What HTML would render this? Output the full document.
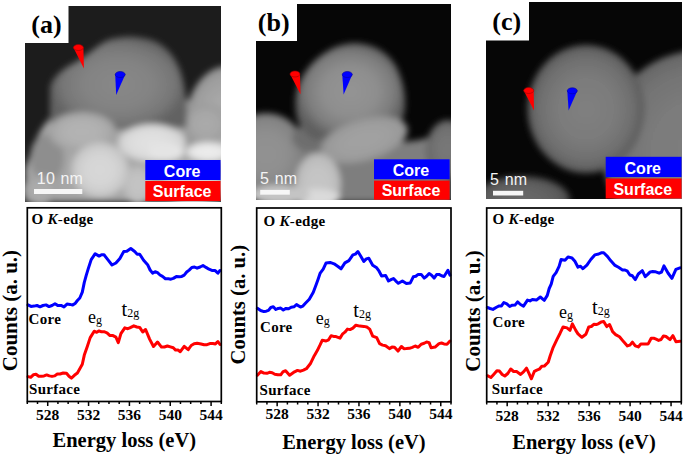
<!DOCTYPE html>
<html><head><meta charset="utf-8"><style>
html,body{margin:0;padding:0;background:#fff;}
body{width:685px;height:455px;overflow:hidden;}
svg{display:block;}
.tl{font-family:"Liberation Serif",serif;font-weight:bold;font-size:15.5px;}
.at{font-family:"Liberation Serif",serif;font-weight:bold;font-size:20.5px;}
.yt{font-family:"Liberation Serif",serif;font-weight:bold;font-size:21px;}
.lb{font-family:"Liberation Serif",serif;font-weight:bold;font-size:15px;letter-spacing:0.3px;}
.pk{font-family:"Liberation Serif",serif;font-size:18px;}
.pl{font-family:"Liberation Serif",serif;font-weight:bold;font-size:26px;}
.sb{font-family:"Liberation Sans",sans-serif;font-size:16px;fill:#f4f4f4;}
.bx{font-family:"Liberation Sans",sans-serif;font-weight:bold;font-size:16px;fill:#fff;}
</style></head><body>
<svg width="685" height="455" viewBox="0 0 685 455">
<defs><radialGradient id="ga_r" cx="50%" cy="50%" r="50%"><stop offset="0" stop-color="#aaaaaa"/><stop offset="0.5" stop-color="#a7a7a7"/><stop offset="0.8" stop-color="#9f9f9f"/><stop offset="1" stop-color="#909090"/></radialGradient><radialGradient id="ga_r2" cx="50%" cy="50%" r="50%"><stop offset="0" stop-color="#aaaaaa"/><stop offset="0.5" stop-color="#a8a8a8"/><stop offset="0.8" stop-color="#a2a2a2"/><stop offset="1" stop-color="#999999"/></radialGradient><radialGradient id="ga_main" cx="50%" cy="50%" r="50%"><stop offset="0" stop-color="#888888"/><stop offset="0.5" stop-color="#838383"/><stop offset="0.8" stop-color="#777777"/><stop offset="1" stop-color="#626262"/></radialGradient><radialGradient id="ga_b1" cx="50%" cy="50%" r="50%"><stop offset="0" stop-color="#b4b4b4"/><stop offset="0.5" stop-color="#b1b1b1"/><stop offset="0.8" stop-color="#aaaaaa"/><stop offset="1" stop-color="#9e9e9e"/></radialGradient><radialGradient id="ga_ll" cx="50%" cy="50%" r="50%"><stop offset="0" stop-color="#acacac"/><stop offset="0.5" stop-color="#aaaaaa"/><stop offset="0.8" stop-color="#a4a4a4"/><stop offset="1" stop-color="#9b9b9b"/></radialGradient><radialGradient id="ga_b3" cx="50%" cy="50%" r="50%"><stop offset="0" stop-color="#e2e2e2"/><stop offset="0.5" stop-color="#dfdfdf"/><stop offset="0.8" stop-color="#d8d8d8"/><stop offset="1" stop-color="#cbcbcb"/></radialGradient><radialGradient id="ga_b4" cx="50%" cy="50%" r="50%"><stop offset="0" stop-color="#ececec"/><stop offset="0.5" stop-color="#eaeaea"/><stop offset="0.8" stop-color="#e4e4e4"/><stop offset="1" stop-color="#d9d9d9"/></radialGradient><radialGradient id="ga_b5" cx="50%" cy="50%" r="50%"><stop offset="0" stop-color="#c4c4c4"/><stop offset="0.5" stop-color="#c2c2c2"/><stop offset="0.8" stop-color="#bbbbbb"/><stop offset="1" stop-color="#b0b0b0"/></radialGradient><radialGradient id="ga_b2" cx="50%" cy="50%" r="50%"><stop offset="0" stop-color="#d8d8d8"/><stop offset="0.5" stop-color="#d5d5d5"/><stop offset="0.8" stop-color="#cccccc"/><stop offset="1" stop-color="#bebebe"/></radialGradient><radialGradient id="ga_b6" cx="50%" cy="50%" r="50%"><stop offset="0" stop-color="#d6d6d6"/><stop offset="0.5" stop-color="#d4d4d4"/><stop offset="0.8" stop-color="#cecece"/><stop offset="1" stop-color="#c5c5c5"/></radialGradient><radialGradient id="gb_rr" cx="50%" cy="50%" r="50%"><stop offset="0" stop-color="#787878"/><stop offset="0.5" stop-color="#757575"/><stop offset="0.8" stop-color="#6d6d6d"/><stop offset="1" stop-color="#606060"/></radialGradient><radialGradient id="gb_left" cx="50%" cy="50%" r="50%"><stop offset="0" stop-color="#929292"/><stop offset="0.5" stop-color="#8f8f8f"/><stop offset="0.8" stop-color="#868686"/><stop offset="1" stop-color="#787878"/></radialGradient><radialGradient id="gb_main" cx="50%" cy="50%" r="50%"><stop offset="0" stop-color="#949494"/><stop offset="0.5" stop-color="#8e8e8e"/><stop offset="0.8" stop-color="#7c7c7c"/><stop offset="1" stop-color="#5f5f5f"/></radialGradient><radialGradient id="gb_low" cx="50%" cy="50%" r="50%"><stop offset="0" stop-color="#a2a2a2"/><stop offset="0.5" stop-color="#a0a0a0"/><stop offset="0.8" stop-color="#9b9b9b"/><stop offset="1" stop-color="#929292"/></radialGradient><radialGradient id="gb_bot" cx="50%" cy="50%" r="50%"><stop offset="0" stop-color="#c6c6c6"/><stop offset="0.5" stop-color="#c4c4c4"/><stop offset="0.8" stop-color="#bdbdbd"/><stop offset="1" stop-color="#b2b2b2"/></radialGradient><radialGradient id="gc_r" cx="50%" cy="50%" r="50%"><stop offset="0" stop-color="#7e7e7e"/><stop offset="0.5" stop-color="#7b7b7b"/><stop offset="0.8" stop-color="#737373"/><stop offset="1" stop-color="#656565"/></radialGradient><radialGradient id="gc_main" cx="50%" cy="50%" r="50%"><stop offset="0" stop-color="#808080"/><stop offset="0.5" stop-color="#7b7b7b"/><stop offset="0.8" stop-color="#6f6f6f"/><stop offset="1" stop-color="#5a5a5a"/></radialGradient><radialGradient id="gc_bot" cx="50%" cy="50%" r="50%"><stop offset="0" stop-color="#686868"/><stop offset="0.5" stop-color="#646464"/><stop offset="0.8" stop-color="#5a5a5a"/><stop offset="1" stop-color="#494949"/></radialGradient><filter id="b3" x="-50%" y="-50%" width="200%" height="200%"><feGaussianBlur stdDeviation="3"/></filter>
<filter id="b2" x="-50%" y="-50%" width="200%" height="200%"><feGaussianBlur stdDeviation="2"/></filter>
<filter id="b4" x="-50%" y="-50%" width="200%" height="200%"><feGaussianBlur stdDeviation="4"/></filter>
<filter id="b7" x="-50%" y="-50%" width="200%" height="200%"><feGaussianBlur stdDeviation="7"/></filter>
<filter id="b12" x="-50%" y="-50%" width="200%" height="200%"><feGaussianBlur stdDeviation="12"/></filter>
<clipPath id="ca"><rect x="25" y="6" width="196" height="196"/></clipPath>
<clipPath id="cb"><rect x="256" y="4" width="195" height="196"/></clipPath>
<clipPath id="cc"><rect x="486" y="2" width="196" height="197"/></clipPath>
</defs>
<g clip-path="url(#ca)"><rect x="25" y="6" width="196" height="196" fill="#1c1c1c"/><g filter="url(#b3)"><path d="M52,116 L100,112 L221,96 L221,202 L25,202 L25,168 C28,160 32,150 36,140 C40,130 46,122 52,116 Z" fill="#a6a6a6"/><ellipse cx="47" cy="158" rx="17" ry="24" fill="#8e8e8e"/><ellipse cx="228" cy="126" rx="43" ry="60" fill="url(#ga_r)"/><ellipse cx="206" cy="124" rx="22" ry="20" fill="url(#ga_r2)"/><path d="M50,118 L50,88 C52,78 60,70 78,61 C88,55 96,46 106,41 C118,36 142,34 160,44 C172,52 180,64 184,85 C187,100 188,112 186,128 L52,132 Z" fill="url(#ga_main)"/><ellipse cx="82" cy="132" rx="34" ry="20" fill="url(#ga_b1)"/><ellipse cx="40" cy="190" rx="18" ry="16" fill="url(#ga_ll)"/><ellipse cx="152" cy="143" rx="34" ry="19" fill="url(#ga_b3)"/><ellipse cx="166" cy="152" rx="18" ry="9" fill="#e4e4e4"/><ellipse cx="208" cy="152" rx="22" ry="10" fill="url(#ga_b4)"/><ellipse cx="138" cy="185" rx="16" ry="20" fill="url(#ga_b5)"/><ellipse cx="100" cy="170" rx="29" ry="28" fill="url(#ga_b2)"/><ellipse cx="192" cy="188" rx="32" ry="18" fill="url(#ga_b6)"/></g><rect x="25" y="6" width="43.5" height="37" fill="#fff"/></g><g clip-path="url(#cb)"><rect x="256" y="4" width="195" height="196" fill="#060606"/><g filter="url(#b3)"><path d="M300,140 L340,150 L420,140 L451,130 L451,202 L290,202 Z" fill="#7e7e7e"/><ellipse cx="448" cy="150" rx="22" ry="30" fill="url(#gb_rr)"/><ellipse cx="266" cy="154" rx="40" ry="41" fill="url(#gb_left)"/><ellipse cx="312" cy="138" rx="20" ry="14" fill="#6e6e6e"/><path d="M296,112 C294,97 297,83 306,71 C316,57 333,44 354,43 C372,43 388,52 396,66 C403,80 406,95 405,108 C404,120 398,128 392,132 L314,140 C303,133 297,123 296,112 Z" fill="url(#gb_main)"/><ellipse cx="364" cy="140" rx="45" ry="21" fill="url(#gb_low)" transform="rotate(-16 364 140)"/><ellipse cx="318" cy="184" rx="23" ry="31" fill="url(#gb_bot)"/><ellipse cx="316" cy="197" rx="24" ry="8" fill="#dadada"/><ellipse cx="280" cy="195" rx="30" ry="10" fill="#c4c4c4"/></g><rect x="256" y="4" width="41" height="37" fill="#fff"/></g><g clip-path="url(#cc)"><rect x="486" y="2" width="196" height="197" fill="#060606"/><g filter="url(#b3)"><ellipse cx="702" cy="150" rx="100" ry="100" fill="url(#gc_r)"/><ellipse cx="586" cy="109" rx="58.5" ry="64" fill="url(#gc_main)"/><ellipse cx="522" cy="200" rx="48" ry="24" fill="url(#gc_bot)"/></g><rect x="486" y="2" width="43" height="38.5" fill="#fff"/></g><path d="M73.4,47.5 L83.9,68.5 L83.4,47.5 Z" fill="#ff0000"/><ellipse cx="78.4" cy="47.5" rx="5.0" ry="3.0" fill="#ff0000" stroke="#a00000" stroke-width="0.6"/><path d="M115.2,74.5 L116.2,95.0 L125.2,74.5 Z" fill="#0000ff"/><ellipse cx="120.2" cy="74.5" rx="5.0" ry="3.0" fill="#0000ff" stroke="#0000a0" stroke-width="0.6"/><path d="M290.0,74.0 L300.5,94.2 L300.0,74.0 Z" fill="#ff0000"/><ellipse cx="295" cy="74" rx="5.0" ry="3.0" fill="#ff0000" stroke="#a00000" stroke-width="0.6"/><path d="M342.3,74.5 L343.6,94.5 L352.3,74.5 Z" fill="#0000ff"/><ellipse cx="347.3" cy="74.5" rx="5.0" ry="3.0" fill="#0000ff" stroke="#0000a0" stroke-width="0.6"/><path d="M523.7,90.5 L534.0,110.5 L533.7,90.5 Z" fill="#ff0000"/><ellipse cx="528.7" cy="90.5" rx="5.0" ry="3.0" fill="#ff0000" stroke="#a00000" stroke-width="0.6"/><path d="M567.3,90.8 L568.6,110.5 L577.3,90.8 Z" fill="#0000ff"/><ellipse cx="572.3" cy="90.8" rx="5.0" ry="3.0" fill="#0000ff" stroke="#0000a0" stroke-width="0.6"/><rect x="145.3" y="160" width="75.19999999999999" height="20" fill="#0000ff"/><rect x="145.3" y="181" width="75.19999999999999" height="20" fill="#ff0000"/><text x="182.1" y="176.5" text-anchor="middle" class="bx">Core</text><text x="182.1" y="197" text-anchor="middle" class="bx">Surface</text><rect x="374" y="159.3" width="75.60000000000002" height="19.899999999999977" fill="#0000ff"/><rect x="374" y="180.6" width="75.60000000000002" height="19.099999999999994" fill="#ff0000"/><text x="411.0" y="175.7" text-anchor="middle" class="bx">Core</text><text x="411.0" y="195.7" text-anchor="middle" class="bx">Surface</text><rect x="605.7" y="156.8" width="75.79999999999995" height="20.19999999999999" fill="#0000ff"/><rect x="605.7" y="178.5" width="75.79999999999995" height="20.0" fill="#ff0000"/><text x="642.8000000000001" y="173.5" text-anchor="middle" class="bx">Core</text><text x="642.8000000000001" y="194.5" text-anchor="middle" class="bx">Surface</text><rect x="34" y="189" width="48.3" height="5" fill="#f6f6f6"/><text x="36.8" y="184.3" class="sb" letter-spacing="0.2" word-spacing="0.8">10 nm</text><rect x="260.2" y="189.9" width="29.6" height="4.8" fill="#f6f6f6"/><text x="260" y="184" class="sb" word-spacing="1.5">5 nm</text><rect x="493" y="190.8" width="30.2" height="4.7" fill="#f6f6f6"/><text x="490" y="185.2" class="sb" word-spacing="1.5">5 nm</text><text x="31.3" y="33.1" class="pl">(a)</text><text x="257.8" y="31.1" class="pl">(b)</text><text x="492.3" y="30.4" class="pl">(c)</text>
<polyline points="28.0,304.9 31.0,306.4 34.0,306.1 37.0,305.5 40.0,306.8 43.0,305.5 46.0,304.9 49.0,306.6 52.0,305.5 55.0,303.8 58.0,305.6 61.0,305.4 64.0,306.9 67.0,304.1 70.0,304.4 72.7,305.1 75.4,303.2 77.4,300.5 79.8,298.0 82.3,292.1 84.3,282.4 86.3,275.1 88.2,268.9 91.2,259.6 95.2,253.7 99.1,256.1 101.5,254.7 104.0,254.8 108.0,259.9 112.0,265.0 115.9,263.0 119.9,258.4 123.8,251.4 126.8,251.3 130.8,248.5 134.7,251.5 137.2,254.2 139.7,254.2 143.6,260.3 147.6,264.7 150.1,270.0 152.6,273.1 155.1,271.7 157.5,272.7 160.0,275.0 162.5,276.4 165.4,278.7 168.4,278.8 170.9,279.2 173.3,278.4 176.3,276.6 179.3,276.7 181.8,276.4 184.2,275.1 186.7,272.0 189.2,270.1 191.8,267.5 194.5,267.0 197.1,268.2 200.1,267.0 203.0,265.5 206.0,267.4 209.0,269.2 211.9,270.4 214.9,270.4 217.9,273.2 220.0,270.5" fill="none" stroke="#0000ff" stroke-width="3.0" stroke-linejoin="round" stroke-linecap="round"/>
<polyline points="28.0,376.6 30.7,377.3 33.3,374.8 36.0,374.3 38.7,376.3 41.3,376.3 44.0,375.9 46.7,374.9 49.3,375.9 52.0,376.4 54.7,375.9 57.3,374.0 60.0,374.0 63.2,373.0 66.5,373.2 69.0,376.2 71.4,378.1 74.4,375.3 77.4,373.0 79.8,368.8 82.3,364.3 84.3,355.1 87.3,346.5 90.2,337.6 94.2,331.2 96.7,332.3 99.1,330.9 101.5,331.8 104.0,331.7 107.0,332.8 110.0,335.6 113.0,335.6 115.9,337.1 118.3,342.7 120.9,333.7 124.8,327.8 127.3,328.7 129.8,327.9 133.8,325.8 136.8,327.0 139.7,327.4 142.7,332.0 145.6,329.5 149.6,339.1 153.5,346.5 157.5,342.0 161.5,347.1 164.4,347.0 167.4,346.0 170.4,346.9 173.3,347.8 175.6,350.1 178.0,350.0 180.3,351.7 184.2,346.3 188.2,349.7 191.2,345.5 194.1,343.8 197.1,343.3 201.1,344.0 204.1,344.7 207.0,344.7 209.9,343.6 212.9,343.5 215.4,343.9 217.9,341.5 220.0,344.5" fill="none" stroke="#ff0000" stroke-width="3.0" stroke-linejoin="round" stroke-linecap="round"/>
<rect x="27.3" y="207.8" width="194.0" height="193.7" fill="none" stroke="#000" stroke-width="1.7"/>
<path d="M27.30 401.5v2.6 M37.51 401.5v2.6 M47.72 401.5v4.5 M57.93 401.5v2.6 M68.14 401.5v2.6 M78.35 401.5v2.6 M88.56 401.5v4.5 M98.77 401.5v2.6 M108.98 401.5v2.6 M119.19 401.5v2.6 M129.41 401.5v4.5 M139.62 401.5v2.6 M149.83 401.5v2.6 M160.04 401.5v2.6 M170.25 401.5v4.5 M180.46 401.5v2.6 M190.67 401.5v2.6 M200.88 401.5v2.6 M211.09 401.5v4.5 M221.30 401.5v2.6" stroke="#000" stroke-width="1.5" fill="none"/>
<text x="47.72" y="419.5" text-anchor="middle" class="tl">528</text>
<text x="88.56" y="419.5" text-anchor="middle" class="tl">532</text>
<text x="129.41" y="419.5" text-anchor="middle" class="tl">536</text>
<text x="170.25" y="419.5" text-anchor="middle" class="tl">540</text>
<text x="211.09" y="419.5" text-anchor="middle" class="tl">544</text>
<text x="124.3" y="447.4" text-anchor="middle" class="at">Energy loss (eV)</text>
<text x="31.5" y="223.5" class="lb">O <tspan font-style="italic">K</tspan><tspan font-weight="normal">-</tspan>edge</text>
<text x="28.6" y="323.7" class="lb">Core</text>
<text x="29.0" y="394.1" class="lb">Surface</text>
<text x="88" y="322.5" class="pk">e<tspan font-size="12" dy="1">g</tspan></text>
<text x="121.5" y="315.5" class="pk"><tspan font-size="20.5">t</tspan><tspan font-size="12" dy="1">2g</tspan></text>
<polyline points="257.4,308.3 260.6,310.5 263.9,311.6 266.2,311.2 268.5,310.4 270.8,307.5 273.3,306.8 275.8,309.5 278.2,308.4 280.7,308.1 283.3,310.0 286.0,308.4 288.6,308.8 291.2,307.2 293.9,306.8 296.5,304.6 300.5,307.0 302.9,306.1 305.4,303.3 309.3,299.3 313.3,292.3 316.3,284.3 318.2,279.0 320.2,273.1 323.2,269.1 326.1,262.9 330.1,262.4 334.1,263.8 338.0,266.5 341.0,268.8 344.9,262.9 348.9,260.6 352.9,254.9 355.4,254.1 357.9,251.5 360.8,256.2 363.8,261.4 366.3,258.9 368.8,258.2 372.7,265.2 376.7,267.8 379.1,271.2 381.6,276.0 385.6,275.4 388.5,281.0 391.0,279.7 393.5,278.5 395.9,281.1 398.4,283.3 402.4,281.0 406.4,283.6 410.3,282.9 413.3,276.8 415.8,276.3 418.2,274.4 421.2,274.4 424.2,278.1 426.6,276.2 429.1,273.5 431.6,275.2 434.1,278.1 436.6,274.6 439.0,274.4 441.5,275.8 444.0,276.5 447.9,270.3 450.0,275.2" fill="none" stroke="#0000ff" stroke-width="3.0" stroke-linejoin="round" stroke-linecap="round"/>
<polyline points="257.4,375.2 260.9,371.5 263.9,373.1 266.9,373.3 269.5,372.3 272.2,372.7 274.8,374.2 277.8,374.7 280.7,374.8 283.1,371.6 285.6,370.8 289.6,375.3 292.1,373.5 294.5,371.8 297.5,370.4 300.5,371.2 303.4,370.1 306.4,368.7 310.3,363.8 314.3,355.7 317.3,350.6 320.2,344.7 322.2,340.3 326.1,341.0 328.6,339.8 331.1,335.7 333.6,336.4 336.0,336.6 340.0,338.1 342.4,334.2 344.9,332.2 347.4,329.1 350.0,329.6 352.9,328.1 355.9,325.2 359.8,326.1 363.8,326.4 366.8,327.0 369.7,329.1 372.7,336.1 376.7,337.6 379.6,343.7 382.6,345.1 385.6,345.7 389.5,348.6 392.0,347.1 394.5,347.2 398.0,351.1 401.4,346.5 403.9,348.7 406.4,348.6 409.4,348.3 412.3,347.3 415.2,346.0 418.2,347.3 421.2,344.2 424.2,343.3 426.6,342.0 429.1,342.6 431.1,347.7 435.1,347.1 439.0,343.6 441.5,343.0 444.0,343.9 447.0,344.2 450.0,341.0" fill="none" stroke="#ff0000" stroke-width="3.0" stroke-linejoin="round" stroke-linecap="round"/>
<rect x="256.7" y="208.0" width="194.3" height="193.8" fill="none" stroke="#000" stroke-width="1.7"/>
<path d="M256.70 401.8v2.6 M266.93 401.8v2.6 M277.15 401.8v4.5 M287.38 401.8v2.6 M297.61 401.8v2.6 M307.83 401.8v2.6 M318.06 401.8v4.5 M328.28 401.8v2.6 M338.51 401.8v2.6 M348.74 401.8v2.6 M358.96 401.8v4.5 M369.19 401.8v2.6 M379.42 401.8v2.6 M389.64 401.8v2.6 M399.87 401.8v4.5 M410.09 401.8v2.6 M420.32 401.8v2.6 M430.55 401.8v2.6 M440.77 401.8v4.5 M451.00 401.8v2.6" stroke="#000" stroke-width="1.5" fill="none"/>
<text x="277.15" y="419.1" text-anchor="middle" class="tl">528</text>
<text x="318.06" y="419.1" text-anchor="middle" class="tl">532</text>
<text x="358.96" y="419.1" text-anchor="middle" class="tl">536</text>
<text x="399.87" y="419.1" text-anchor="middle" class="tl">540</text>
<text x="440.77" y="419.1" text-anchor="middle" class="tl">544</text>
<text x="353.9" y="449.0" text-anchor="middle" class="at">Energy loss (eV)</text>
<text x="263.5" y="225.5" class="lb">O <tspan font-style="italic">K</tspan><tspan font-weight="normal">-</tspan>edge</text>
<text x="260" y="331.9" class="lb">Core</text>
<text x="259.5" y="394.8" class="lb">Surface</text>
<text x="315.8" y="324" class="pk">e<tspan font-size="12" dy="1">g</tspan></text>
<text x="353.3" y="316.5" class="pk"><tspan font-size="20.5">t</tspan><tspan font-size="12" dy="1">2g</tspan></text>
<polyline points="487.4,307.5 490.1,308.5 492.9,309.4 496.9,307.0 499.2,305.9 501.5,305.9 503.8,302.5 506.8,303.9 509.7,306.5 512.3,305.2 515.0,305.1 517.6,301.9 520.5,304.5 523.5,306.1 527.5,300.1 530.0,300.9 532.4,299.5 536.4,300.1 540.3,297.0 544.3,300.3 547.3,295.4 549.2,288.5 551.2,284.2 553.2,276.4 556.1,272.6 559.1,266.3 561.1,259.5 565.0,260.2 568.0,256.9 572.0,258.0 574.9,261.3 578.0,267.2 580.5,266.2 582.9,268.7 586.9,265.2 590.8,259.5 594.8,254.9 598.7,254.0 601.2,252.8 603.7,252.7 607.6,256.6 610.6,260.6 614.6,265.1 618.5,267.3 622.5,269.9 625.0,270.0 627.4,271.2 629.9,275.0 632.4,275.8 635.3,279.6 638.3,274.0 642.3,270.7 645.2,276.7 647.7,274.4 650.2,271.9 652.7,271.6 655.1,271.7 659.1,273.2 661.5,272.1 664.0,265.9 668.0,273.0 671.9,278.4 675.9,269.4 680.0,267.8" fill="none" stroke="#0000ff" stroke-width="3.0" stroke-linejoin="round" stroke-linecap="round"/>
<polyline points="487.4,375.7 490.9,377.5 493.9,374.2 496.9,370.8 499.5,371.1 502.2,374.5 504.8,376.0 507.8,373.5 510.7,369.0 513.6,371.5 516.6,371.6 520.6,374.4 523.5,371.9 526.5,368.2 529.0,373.3 531.4,378.8 534.4,371.3 536.8,370.1 539.3,369.2 541.8,366.2 544.3,366.1 548.2,362.2 550.2,355.7 553.2,347.3 557.1,339.1 560.1,333.2 563.1,326.9 567.0,327.9 570.0,330.3 572.4,323.9 575.9,330.6 578.0,333.9 581.9,337.3 585.9,334.3 588.8,326.9 591.3,326.5 593.8,324.3 596.2,324.6 598.7,323.6 601.2,321.9 603.7,321.5 606.7,326.6 609.6,324.6 612.6,331.7 615.6,334.6 619.5,336.8 623.5,341.6 627.4,345.9 629.9,345.1 632.4,342.1 635.3,345.9 638.3,346.9 640.8,344.0 643.2,344.1 645.7,343.9 648.2,343.9 651.2,338.2 653.7,338.2 656.1,339.2 658.6,340.4 661.1,339.5 663.5,335.9 666.0,336.5 670.0,339.6 672.9,335.6 675.9,341.7 680.0,341.3" fill="none" stroke="#ff0000" stroke-width="3.0" stroke-linejoin="round" stroke-linecap="round"/>
<rect x="486.7" y="208.0" width="194.59999999999997" height="193.8" fill="none" stroke="#000" stroke-width="1.7"/>
<path d="M486.70 401.8v2.6 M496.94 401.8v2.6 M507.18 401.8v4.5 M517.43 401.8v2.6 M527.67 401.8v2.6 M537.91 401.8v2.6 M548.15 401.8v4.5 M558.39 401.8v2.6 M568.64 401.8v2.6 M578.88 401.8v2.6 M589.12 401.8v4.5 M599.36 401.8v2.6 M609.61 401.8v2.6 M619.85 401.8v2.6 M630.09 401.8v4.5 M640.33 401.8v2.6 M650.57 401.8v2.6 M660.82 401.8v2.6 M671.06 401.8v4.5 M681.30 401.8v2.6" stroke="#000" stroke-width="1.5" fill="none"/>
<text x="507.18" y="420.6" text-anchor="middle" class="tl">528</text>
<text x="548.15" y="420.6" text-anchor="middle" class="tl">532</text>
<text x="589.12" y="420.6" text-anchor="middle" class="tl">536</text>
<text x="630.09" y="420.6" text-anchor="middle" class="tl">540</text>
<text x="671.06" y="420.6" text-anchor="middle" class="tl">544</text>
<text x="584.0" y="449.0" text-anchor="middle" class="at">Energy loss (eV)</text>
<text x="492.5" y="224.0" class="lb">O <tspan font-style="italic">K</tspan><tspan font-weight="normal">-</tspan>edge</text>
<text x="492.5" y="326.7" class="lb">Core</text>
<text x="491.8" y="394.2" class="lb">Surface</text>
<text x="559" y="317.8" class="pk">e<tspan font-size="12" dy="1">g</tspan></text>
<text x="592" y="313.5" class="pk"><tspan font-size="20.5">t</tspan><tspan font-size="12" dy="1">2g</tspan></text>
<text transform="translate(17.4,310.6) rotate(-90)" text-anchor="middle" class="yt">Counts (a. u.)</text><text transform="translate(245.0,304.6) rotate(-90)" text-anchor="middle" class="yt" style="font-size:20.7px">Counts (a. u.)</text><text transform="translate(479.5,311.0) rotate(-90)" text-anchor="middle" class="yt">Counts (a. u.)</text>
</svg>
</body></html>
